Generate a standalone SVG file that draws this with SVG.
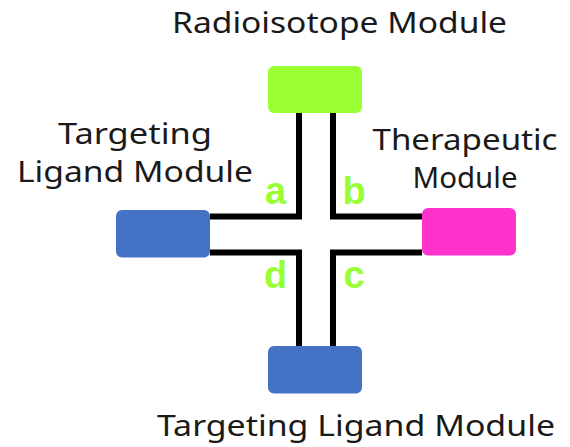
<svg xmlns="http://www.w3.org/2000/svg" width="570" height="447" viewBox="0 0 570 447">
<style>
.lbl{font-family:"Noto Sans","Open Sans","DejaVu Sans",sans-serif;font-size:29px;fill:#1a1a1a;text-anchor:middle}
.let{font-family:"Liberation Sans",Arial,sans-serif;font-weight:bold;font-size:38px;fill:#99ff33;text-anchor:middle}
.ln{fill:none;stroke:#000;stroke-width:6;stroke-linejoin:miter}
</style>
<rect width="570" height="447" fill="#fff"/>
<g id="connectors">
<path class="ln" d="M210,216.5 H299 V113"/>
<path class="ln" d="M333,113 V216.5 H422"/>
<path class="ln" d="M210,252.5 H299 V346"/>
<path class="ln" d="M333,346 V252.5 H422"/>
<text class="let" x="275.5" y="204">a</text>
<text class="let" x="354" y="204">b</text>
<text class="let" x="354" y="288">c</text>
<text class="let" x="275.5" y="288">d</text>
</g>
<g id="radioisotope">
<rect x="268" y="66" width="94" height="47" rx="6" fill="#99ff33"/>
<text class="lbl" x="339.5" y="33" textLength="335" lengthAdjust="spacingAndGlyphs">Radioisotope Module</text>
</g>
<g id="ligand-left">
<rect x="116" y="210" width="94" height="47.5" rx="6" fill="#4472c4"/>
<text class="lbl" x="135" y="144" textLength="154" lengthAdjust="spacingAndGlyphs">Targeting</text>
<text class="lbl" x="135" y="182" textLength="236" lengthAdjust="spacingAndGlyphs">Ligand Module</text>
</g>
<g id="therapeutic">
<rect x="422" y="208" width="94" height="47.5" rx="6" fill="#ff33cc"/>
<text class="lbl" x="465" y="150" textLength="185" lengthAdjust="spacingAndGlyphs">Therapeutic</text>
<text class="lbl" x="465" y="188" textLength="105" lengthAdjust="spacingAndGlyphs">Module</text>
</g>
<g id="ligand-bottom">
<rect x="268" y="346" width="94" height="47.5" rx="6" fill="#4472c4"/>
<text class="lbl" x="356" y="436" textLength="398" lengthAdjust="spacingAndGlyphs">Targeting Ligand Module</text>
</g>
</svg>
